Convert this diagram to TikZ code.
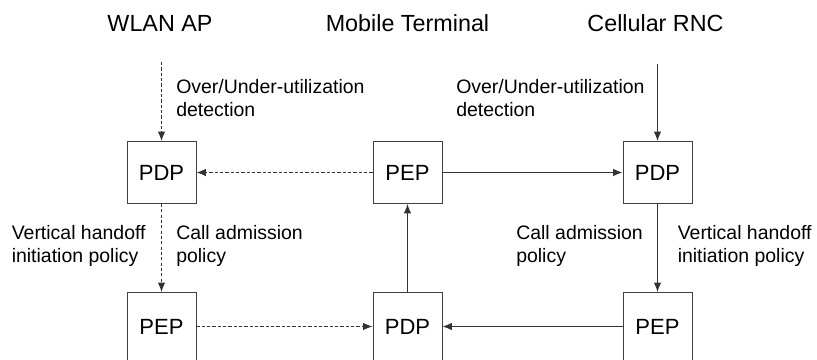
\documentclass[tikz,border=0pt]{standalone}
\usepackage{fontspec}
\setmainfont{Liberation Sans}
\usetikzlibrary{arrows.meta}

\begin{document}
\begin{tikzpicture}[x = 0.75pt, y = 0.75pt,
    box/.style = {draw = black!75, line width = 0.7pt, minimum width = 51.75pt,
                  minimum height = 46.5pt, inner sep = 0pt,
                  font = \fontsize{16.5}{18}\selectfont},
    lowbox/.style = {box, minimum height = 51pt},
    title/.style = {anchor = base, inner sep = 0pt, font = \fontsize{17.5}{20}\selectfont},
    note/.style = {anchor = base west, inner sep = 0pt, align = left,
                   font = \fontsize{14.6}{17.3}\selectfont},
    flow/.style = {draw = black!80, line width = 0.7pt, -{Latex[length = 7pt, width = 5.5pt]}},
    ctrl/.style = {flow, dash pattern = on 2.4pt off 1.6pt}]
\useasboundingbox (0, 0) rectangle (817, 360);

\node[title] (wlan) at (160, 328) {WLAN AP};
\node[title] (mt) at (407.5, 328) {Mobile Terminal};
\node[title] (rnc) at (655.5, 328) {Cellular RNC};

\node[box] (pdpW) at (161.5, 187.5) {PDP};
\node[box] (pepM) at (407.5, 187.5) {PEP};
\node[box] (pdpR) at (657.5, 187.5) {PDP};

\node[lowbox] (pepW) at (161.5, 33.5) {PEP};
\node[lowbox] (pdpM) at (407.5, 33.5) {PDP};
\node[lowbox] (pepR) at (657.5, 33.5) {PEP};

\coordinate (inW) at (161.5, 298);
\coordinate (inR) at (657.5, 296);

% multi-line notes: base is on the last line
\node[note] (detW) at (176, 243) {Over/Under-utilization\\detection};
\node[note] (detR) at (456, 243) {Over/Under-utilization\\detection};
\node[note] (vhoW) at (11.5, 97) {Vertical handoff\\initiation policy};
\node[note] (cacW) at (176, 97) {Call admission\\policy};
\node[note] (cacR) at (516, 97) {Call admission\\policy};
\node[note] (vhoR) at (677.5, 97) {Vertical handoff\\initiation policy};

\draw[ctrl] (inW) -- (pdpW);
\draw[flow] (inR) -- (pdpR);
\draw[ctrl] (pepM) -- (pdpW);
\draw[flow] (pepM) -- (pdpR);
\draw[ctrl] (pdpW) -- (pepW);
\draw[flow] (pdpR) -- (pepR);
\draw[flow] (pdpM) -- (pepM);
\draw[ctrl] (pepW) -- (pdpM);
\draw[flow] (pepR) -- (pdpM);

\end{tikzpicture}
\end{document}
